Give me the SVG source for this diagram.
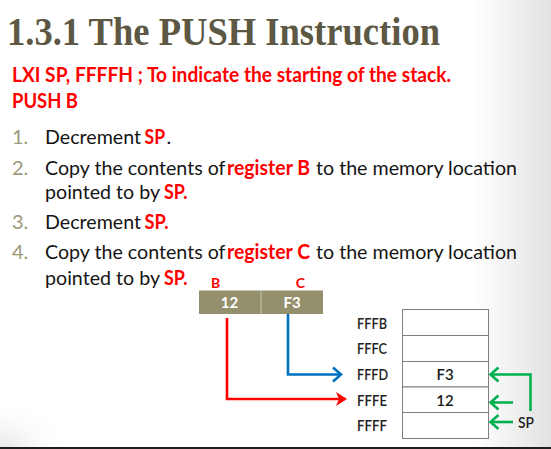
<svg xmlns="http://www.w3.org/2000/svg" width="551" height="449" viewBox="0 0 551 449">
<defs>
<linearGradient id="bg" x1="0" y1="0" x2="1" y2="0">
<stop offset="0" stop-color="#ffffff"/>
<stop offset="0.86" stop-color="#ffffff"/>
<stop offset="1" stop-color="#e2e2e2"/>
</linearGradient>
<radialGradient id="bl" cx="0" cy="1" r="0.35">
<stop offset="0" stop-color="#e6e6e6"/>
<stop offset="1" stop-color="#ffffff" stop-opacity="0"/>
</radialGradient>
<marker id="chevBlue" markerUnits="userSpaceOnUse" markerWidth="14" markerHeight="18" viewBox="-11 -9 14 18" refX="0" refY="0" orient="auto">
<path d="M-8,-7 L0,0 L-8,7" fill="none" stroke="#0070c0" stroke-width="2.6"/>
</marker>
<marker id="chevGreen" markerUnits="userSpaceOnUse" markerWidth="14" markerHeight="18" viewBox="-11 -9 14 18" refX="0" refY="0" orient="auto">
<path d="M-8,-7 L0,0 L-8,7" fill="none" stroke="#00b050" stroke-width="2.6"/>
</marker>
<marker id="arrRed" markerUnits="userSpaceOnUse" markerWidth="14" markerHeight="18" viewBox="-12 -9 14 18" refX="0" refY="0" orient="auto">
<path d="M2,0 L-9,-7 L-6,0 L-9,7 Z" fill="#ff0000"/>
</marker>
</defs>
<style>
.title{font-family:"Liberation Serif",serif;font-weight:bold;font-size:41px;fill:#5d5843}
.b{font-family:Lato,"Open Sans",sans-serif;font-size:20px;fill:#141414}
.n{font-family:Lato,"Open Sans",sans-serif;font-size:20px;fill:#9d987a}
.r{font-family:Lato,"Open Sans",sans-serif;font-size:20px;font-weight:bold;fill:#ff0000}
.rl{font-family:Lato,"Open Sans",sans-serif;font-size:14px;font-weight:bold;fill:#ff0000;text-anchor:middle}
.lab{font-family:Lato,"Open Sans",sans-serif;font-size:15px;font-weight:600;fill:#222222}
.cell{font-family:Lato,"Open Sans",sans-serif;font-size:15px;font-weight:600;fill:#1a1a1a;text-anchor:middle}
.reg{font-family:Lato,"Open Sans",sans-serif;font-size:15px;font-weight:bold;fill:#ffffff;text-anchor:middle}
.mem{fill:#ffffff;stroke:#7f7f7f;stroke-width:1}
</style>
<rect x="0" y="0" width="551" height="449" fill="url(#bg)"/>
<rect x="0" y="300" width="200" height="149" fill="url(#bl)"/>
<rect x="0" y="447" width="551" height="2" fill="#1e1e1e"/>

<g id="title"><text class="title" x="7" y="45" textLength="433" lengthAdjust="spacingAndGlyphs">1.3.1 The PUSH Instruction</text></g>

<g id="code">
<text class="r" x="12" y="82" textLength="439" lengthAdjust="spacingAndGlyphs">LXI SP, FFFFH ; To indicate the starting of the stack.</text>
<text class="r" x="12" y="108" textLength="66" lengthAdjust="spacingAndGlyphs">PUSH B</text>
</g>

<g id="steps">
<text class="n" x="12" y="144">1.</text>
<text class="b" x="45" y="144" textLength="96" lengthAdjust="spacingAndGlyphs">Decrement</text>
<text class="r" x="144.5" y="144" textLength="20.5" lengthAdjust="spacingAndGlyphs">SP</text>
<text class="b" x="166.5" y="144">.</text>

<text class="n" x="12" y="175">2.</text>
<text class="b" x="45" y="175" textLength="180.5" lengthAdjust="spacingAndGlyphs">Copy the contents of</text>
<text class="r" x="227" y="175" textLength="83" lengthAdjust="spacingAndGlyphs">register B</text>
<text class="b" x="316" y="175" textLength="201" lengthAdjust="spacingAndGlyphs">to the memory location</text>
<text class="b" x="45" y="199" textLength="115" lengthAdjust="spacingAndGlyphs">pointed to by</text>
<text class="r" x="164" y="199" textLength="23.5" lengthAdjust="spacingAndGlyphs">SP.</text>

<text class="n" x="12" y="229">3.</text>
<text class="b" x="45" y="229" textLength="96" lengthAdjust="spacingAndGlyphs">Decrement</text>
<text class="r" x="144.5" y="229" textLength="24" lengthAdjust="spacingAndGlyphs">SP.</text>

<text class="n" x="12" y="259">4.</text>
<text class="b" x="45" y="259" textLength="180.5" lengthAdjust="spacingAndGlyphs">Copy the contents of</text>
<text class="r" x="227" y="259" textLength="83" lengthAdjust="spacingAndGlyphs">register C</text>
<text class="b" x="316" y="259" textLength="201" lengthAdjust="spacingAndGlyphs">to the memory location</text>
<text class="b" x="45" y="285" textLength="115" lengthAdjust="spacingAndGlyphs">pointed to by</text>
<text class="r" x="164" y="285" textLength="23.5" lengthAdjust="spacingAndGlyphs">SP.</text>
</g>

<g id="registers">
<text class="rl" x="215.5" y="288">B</text>
<text class="rl" x="300.5" y="288">C</text>
<rect x="199" y="290.5" width="124" height="23.5" fill="#948f6c"/>
<line x1="261" y1="290.5" x2="261" y2="314" stroke="#c9c6b0" stroke-width="1"/>
<text class="reg" x="229.5" y="307.5">12</text>
<text class="reg" x="292" y="307.5">F3</text>
</g>

<g id="memory">
<rect class="mem" x="402.5" y="309.5" width="86" height="26"/>
<rect class="mem" x="402.5" y="335.5" width="86" height="26"/>
<rect class="mem" x="402.5" y="361.5" width="86" height="25.5"/>
<rect class="mem" x="402.5" y="387" width="86" height="25.5"/>
<rect class="mem" x="402.5" y="412.5" width="86" height="26"/>
<text class="cell" x="445" y="379.5">F3</text>
<text class="cell" x="445" y="405.5">12</text>
<text class="lab" x="357" y="328.5" textLength="30" lengthAdjust="spacingAndGlyphs">FFFB</text>
<text class="lab" x="357" y="353.5" textLength="30" lengthAdjust="spacingAndGlyphs">FFFC</text>
<text class="lab" x="357" y="379.5" textLength="31" lengthAdjust="spacingAndGlyphs">FFFD</text>
<text class="lab" x="357" y="405.5" textLength="30" lengthAdjust="spacingAndGlyphs">FFFE</text>
<text class="lab" x="357" y="431" textLength="30" lengthAdjust="spacingAndGlyphs">FFFF</text>
<text class="lab" x="518" y="427.5" textLength="16" lengthAdjust="spacingAndGlyphs">SP</text>
</g>

<g id="connectors" fill="none" stroke-width="2.6">
<path d="M227,318 V399 H345" stroke="#ff0000" marker-end="url(#arrRed)"/>
<path d="M288,314 V374.5 H341" stroke="#0070c0" marker-end="url(#chevBlue)"/>
<path d="M530.5,411 V374.5 H490.5" stroke="#00b050" marker-end="url(#chevGreen)"/>
<path d="M513,402.5 H490.5" stroke="#00b050" marker-end="url(#chevGreen)"/>
<path d="M513,422 H490.5" stroke="#00b050" marker-end="url(#chevGreen)"/>
</g>
</svg>
